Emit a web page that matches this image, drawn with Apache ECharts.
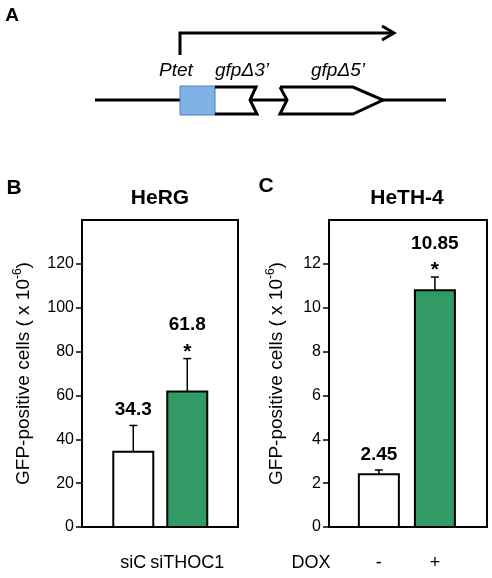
<!DOCTYPE html>
<html><head><meta charset="utf-8">
<script src="https://cdn.jsdelivr.net/npm/echarts@6/dist/echarts.min.js"></script>
<style>html,body{margin:0;background:#fff}#c{width:492px;height:578px}</style>
</head><body><div id="c"></div>
<script>
const catsB = ['siC', 'siTHOC1'];
const valsB = [34.3, 61.8];
const errB = [12, 15];
const labelsB = ['34.3', '61.8'];
const catsC = ['-', '+'];
const valsC = [2.4, 10.8];
const errC = [0.2, 0.6];
const labelsC = ['2.45', '10.85'];
const colors = ['#ffffff', '#329a65'];

const chart = echarts.init(document.getElementById('c'));

function barSeries(idx, vals, errs, labels, stars, barW) {
  return {
    type: 'custom', xAxisIndex: idx, yAxisIndex: idx,
    data: vals.map((v, i) => [i, v, errs[i]]),
    renderItem: function (params, api) {
      const i = api.value(0), v = api.value(1), e = api.value(2);
      const base = api.coord([i, 0]);
      const top = api.coord([i, v]);
      const et = api.coord([i, v + e]);
      const kids = [
        { type: 'line', shape: { x1: top[0], y1: top[1], x2: et[0], y2: et[1] }, style: { stroke: '#000', lineWidth: 1.5 } },
        { type: 'line', shape: { x1: et[0] - 4, y1: et[1], x2: et[0] + 4, y2: et[1] }, style: { stroke: '#000', lineWidth: 1.5 } },
        { type: 'rect', shape: { x: base[0] - barW / 2, y: top[1], width: barW, height: base[1] - top[1] }, style: { fill: colors[i], stroke: '#000', lineWidth: 2 } },
        { type: 'text', style: { text: labels[i], x: et[0], y: et[1] - (stars[i] ? 24 : 6), align: 'center', verticalAlign: 'bottom', font: 'bold 19px Arial, "Liberation Sans"', fill: '#000' } }
      ];
      if (stars[i]) kids.push({ type: 'text', style: { text: '*', x: et[0], y: et[1] + 4, align: 'center', verticalAlign: 'bottom', font: 'bold 21px Arial, "Liberation Sans"', fill: '#000' } });
      return { type: 'group', children: kids };
    }
  };
}

function yAx(idx, max, vals, gap) {
  return {
    gridIndex: idx, type: 'value', min: 0, max: max, interval: vals[1],
    name: 'GFP-positive cells ( x 10{s|-6})', nameLocation: 'middle', nameGap: gap,
    nameTextStyle: { fontSize: 19, color: '#000', fontFamily: 'Arial, "Liberation Sans"', rich: { s: { fontSize: 12, verticalAlign: 'top', padding: [0, 0, 12, 0] } } },
    axisLine: { show: true, onZero: false, lineStyle: { color: '#000', width: 2 } },
    axisTick: { show: true, inside: false, length: 6, customValues: vals, lineStyle: { color: '#000', width: 1.5 } },
    axisLabel: { customValues: vals, fontSize: 16, color: '#000', margin: 8, fontFamily: 'Arial, "Liberation Sans"' },
    splitLine: { show: false }
  };
}

function xAx(idx, min, max, cats) {
  return {
    gridIndex: idx, type: 'value', min: min, max: max,
    axisLine: { show: true, onZero: false, lineStyle: { color: '#000', width: 2 } },
    axisTick: { show: false }, splitLine: { show: false },
    axisLabel: { customValues: [0, 1], formatter: v => cats[Math.round(v)], fontSize: 18, color: '#000', margin: 27, fontFamily: 'Arial, "Liberation Sans"' }
  };
}

const txt = (t, x, y, font) => ({ type: 'text', x: x, y: y, style: { text: t, font: font, fill: '#000', align: 'center', verticalAlign: 'middle' } });
const ln = (pts) => ({ type: 'polyline', shape: { points: pts }, style: { stroke: '#000', lineWidth: 3, fill: null } });

chart.setOption({
  animation: false,
  grid: [
    { left: 82, width: 156, top: 220, height: 307, show: true, borderColor: '#000', borderWidth: 2 },
    { left: 329, width: 158, top: 220, height: 307, show: true, borderColor: '#000', borderWidth: 2 }
  ],
  xAxis: [xAx(0, -0.95, 1.94, catsB), xAx(1, -0.89, 1.93, catsC)],
  yAxis: [yAx(0, 140, [0, 20, 40, 60, 80, 100, 120], 46), yAx(1, 14, [0, 2, 4, 6, 8, 10, 12], 40)],
  series: [barSeries(0, valsB, errB, labelsB, [false, true], 40), barSeries(1, valsC, errC, labelsC, [false, true], 40)],
  graphic: [
    txt('A', 12, 16, 'bold 19px Arial, "Liberation Sans"'),
    txt('B', 14, 188, 'bold 21px Arial, "Liberation Sans"'),
    txt('C', 266, 186, 'bold 21px Arial, "Liberation Sans"'),
    txt('HeRG', 160, 198, 'bold 21px Arial, "Liberation Sans"'),
    txt('HeTH-4', 407, 198, 'bold 21px Arial, "Liberation Sans"'),
    txt('DOX', 311, 563, '18px Arial, "Liberation Sans"'),
    ln([[180, 55], [180, 33], [394, 33]]),
    ln([[382, 26], [394, 33], [382, 40]]),
    ln([[95, 100], [180, 100]]),
    ln([[383, 100], [446, 100]]),
    ln([[252, 100], [287, 100]]),
    { type: 'rect', shape: { x: 180, y: 86, width: 35, height: 29 }, style: { fill: '#7fb2e5', stroke: '#4f7fb5', lineWidth: 1 } },
    ln([[215, 87], [256, 87], [250, 100], [257, 114], [215, 114]]),
    ln([[280, 87], [353, 87], [383, 100], [353, 114], [280, 114], [287, 100], [280, 87]]),
    txt('Ptet', 176, 71, 'italic 19px Arial, "Liberation Sans"'),
    txt('gfpΔ3’', 242, 71, 'italic 19px Arial, "Liberation Sans"'),
    txt('gfpΔ5’', 338, 71, 'italic 19px Arial, "Liberation Sans"')
  ]
});
</script></body></html>
